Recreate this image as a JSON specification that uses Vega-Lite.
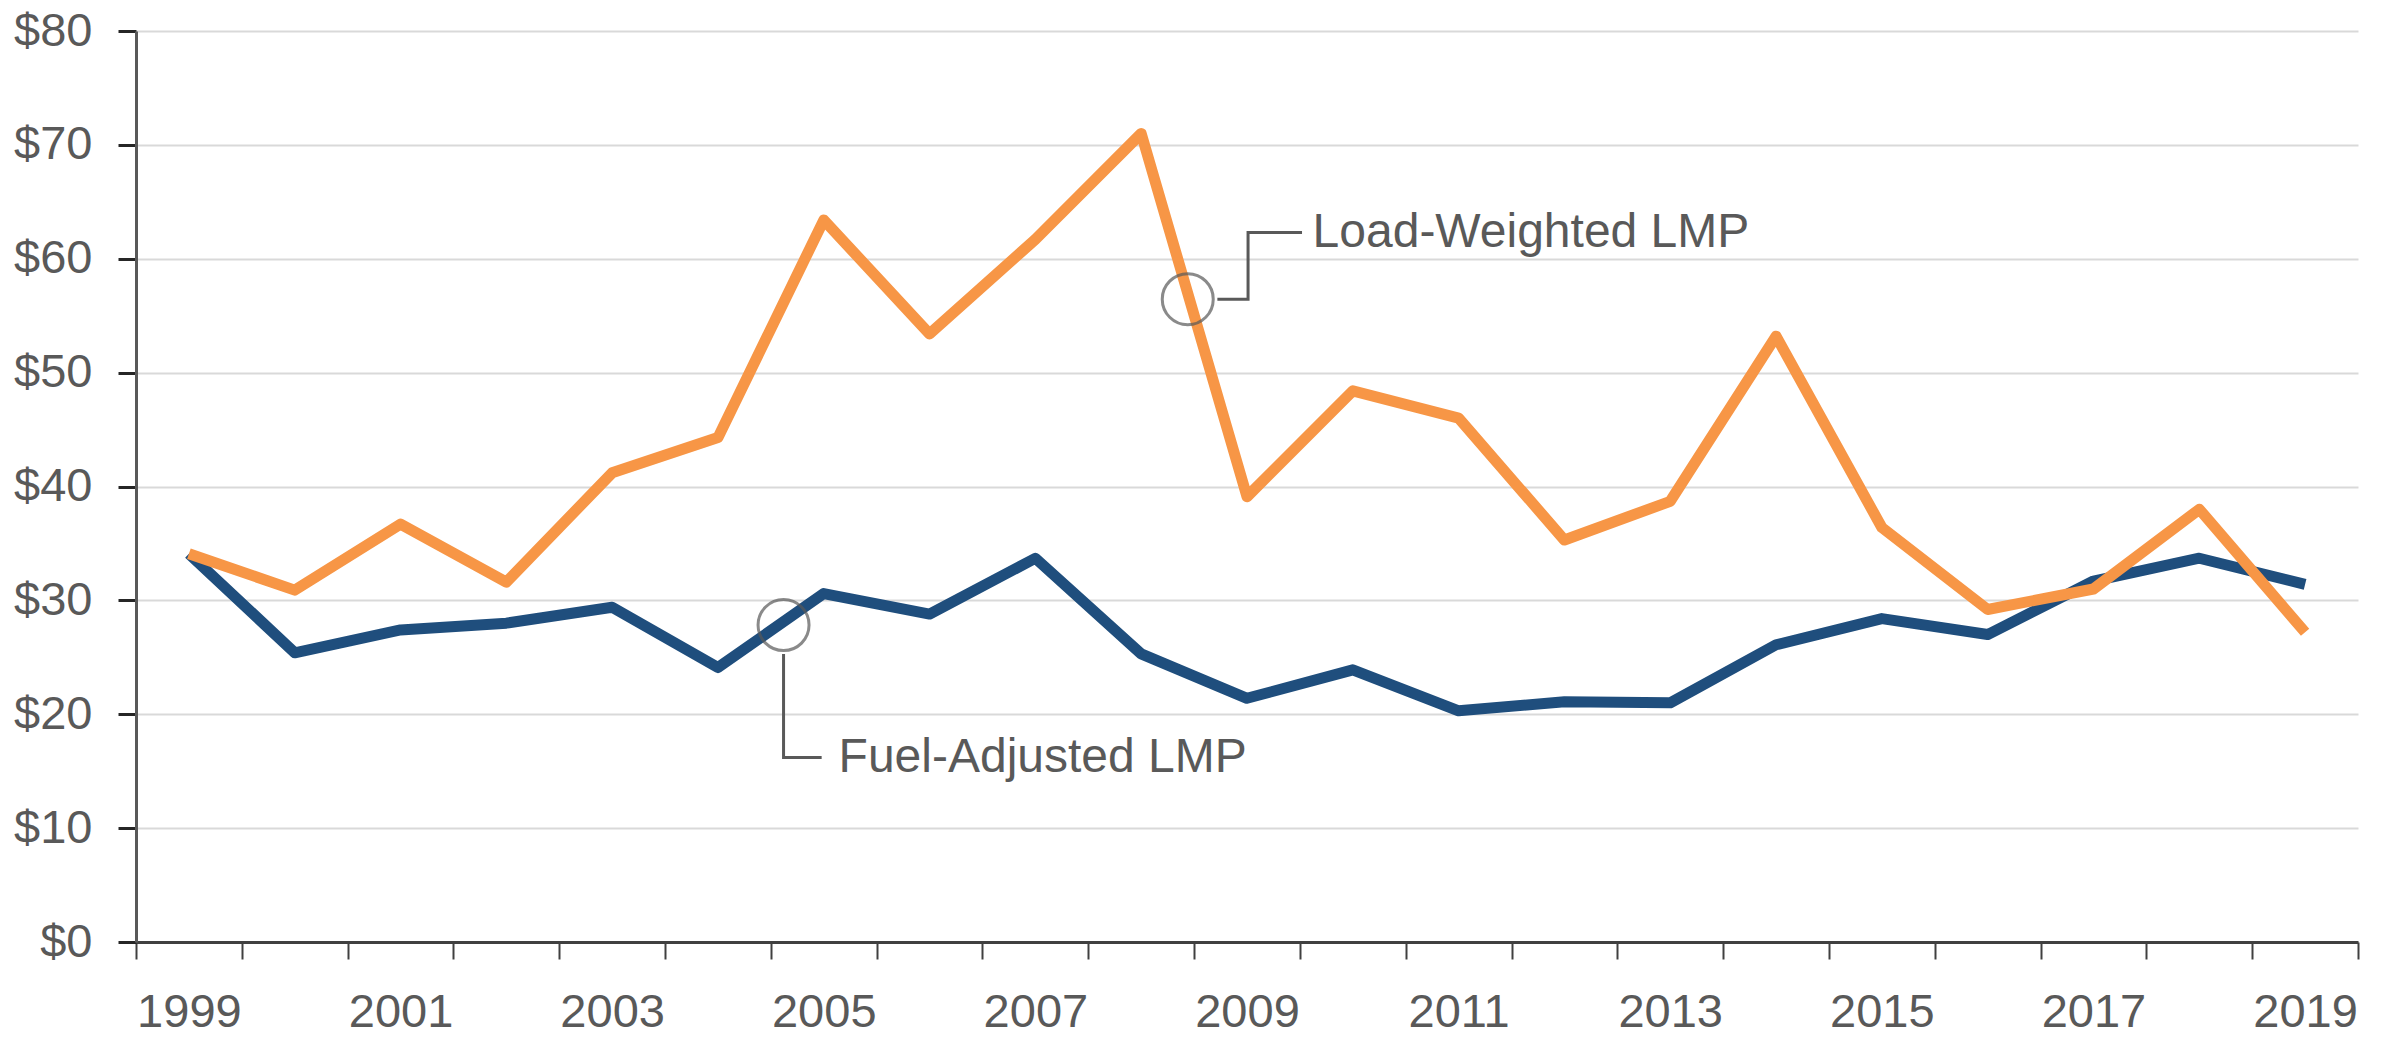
{
  "$schema": "https://vega.github.io/schema/vega-lite/v6.json",
  "autosize": "none",
  "width": 2222,
  "height": 911,
  "padding": {"left": 136, "top": 31, "right": 31, "bottom": 97},
  "background": "white",
  "config": {
    "view": {"stroke": null},
    "font": "Liberation Sans",
    "axis": {"labelFont": "Liberation Sans", "labelColor": "#595959", "labelFontSize": 47}
  },
  "datasets": {
    "lmp": [
      {"year": 1999, "series": "Load-Weighted LMP", "value": 34.1},
      {"year": 2000, "series": "Load-Weighted LMP", "value": 30.9},
      {"year": 2001, "series": "Load-Weighted LMP", "value": 36.7},
      {"year": 2002, "series": "Load-Weighted LMP", "value": 31.6},
      {"year": 2003, "series": "Load-Weighted LMP", "value": 41.2},
      {"year": 2004, "series": "Load-Weighted LMP", "value": 44.3},
      {"year": 2005, "series": "Load-Weighted LMP", "value": 63.4},
      {"year": 2006, "series": "Load-Weighted LMP", "value": 53.4},
      {"year": 2007, "series": "Load-Weighted LMP", "value": 61.7},
      {"year": 2008, "series": "Load-Weighted LMP", "value": 71.0},
      {"year": 2009, "series": "Load-Weighted LMP", "value": 39.1},
      {"year": 2010, "series": "Load-Weighted LMP", "value": 48.4},
      {"year": 2011, "series": "Load-Weighted LMP", "value": 46.0},
      {"year": 2012, "series": "Load-Weighted LMP", "value": 35.3},
      {"year": 2013, "series": "Load-Weighted LMP", "value": 38.7},
      {"year": 2014, "series": "Load-Weighted LMP", "value": 53.2},
      {"year": 2015, "series": "Load-Weighted LMP", "value": 36.4},
      {"year": 2016, "series": "Load-Weighted LMP", "value": 29.2},
      {"year": 2017, "series": "Load-Weighted LMP", "value": 31.0},
      {"year": 2018, "series": "Load-Weighted LMP", "value": 38.0},
      {"year": 2019, "series": "Load-Weighted LMP", "value": 27.2},
      {"year": 1999, "series": "Fuel-Adjusted LMP", "value": 34.1},
      {"year": 2000, "series": "Fuel-Adjusted LMP", "value": 25.4},
      {"year": 2001, "series": "Fuel-Adjusted LMP", "value": 27.4},
      {"year": 2002, "series": "Fuel-Adjusted LMP", "value": 28.0},
      {"year": 2003, "series": "Fuel-Adjusted LMP", "value": 29.4},
      {"year": 2004, "series": "Fuel-Adjusted LMP", "value": 24.1},
      {"year": 2005, "series": "Fuel-Adjusted LMP", "value": 30.6},
      {"year": 2006, "series": "Fuel-Adjusted LMP", "value": 28.8},
      {"year": 2007, "series": "Fuel-Adjusted LMP", "value": 33.7},
      {"year": 2008, "series": "Fuel-Adjusted LMP", "value": 25.3},
      {"year": 2009, "series": "Fuel-Adjusted LMP", "value": 21.4},
      {"year": 2010, "series": "Fuel-Adjusted LMP", "value": 23.9},
      {"year": 2011, "series": "Fuel-Adjusted LMP", "value": 20.3},
      {"year": 2012, "series": "Fuel-Adjusted LMP", "value": 21.1},
      {"year": 2013, "series": "Fuel-Adjusted LMP", "value": 21.0},
      {"year": 2014, "series": "Fuel-Adjusted LMP", "value": 26.1},
      {"year": 2015, "series": "Fuel-Adjusted LMP", "value": 28.4},
      {"year": 2016, "series": "Fuel-Adjusted LMP", "value": 27.0},
      {"year": 2017, "series": "Fuel-Adjusted LMP", "value": 31.7},
      {"year": 2018, "series": "Fuel-Adjusted LMP", "value": 33.7},
      {"year": 2019, "series": "Fuel-Adjusted LMP", "value": 31.4}
    ],
    "circles": [
      {"year": 2008.44, "value": 56.45},
      {"year": 2004.62, "value": 27.83}
    ],
    "leaders": [
      {"label": "Load-Weighted LMP", "i": 0, "year": 2008.72, "value": 56.45},
      {"label": "Load-Weighted LMP", "i": 1, "year": 2009.01, "value": 56.45},
      {"label": "Load-Weighted LMP", "i": 2, "year": 2009.01, "value": 62.3},
      {"label": "Load-Weighted LMP", "i": 3, "year": 2009.52, "value": 62.3},
      {"label": "Fuel-Adjusted LMP", "i": 0, "year": 2004.62, "value": 25.3},
      {"label": "Fuel-Adjusted LMP", "i": 1, "year": 2004.62, "value": 16.2},
      {"label": "Fuel-Adjusted LMP", "i": 2, "year": 2004.98, "value": 16.2}
    ],
    "labels": [
      {"label": "Load-Weighted LMP", "year": 2009.62, "value": 62.3},
      {"label": "Fuel-Adjusted LMP", "year": 2005.14, "value": 16.2}
    ]
  },
  "resolve": {"axis": {"x": "independent"}},
  "layer": [
    {
      "data": {"name": "lmp"},
      "transform": [{"filter": "datum.series === 'Fuel-Adjusted LMP'"}],
      "mark": {"type": "line", "strokeWidth": 11, "color": "#1F4E7D", "strokeJoin": "round"},
      "encoding": {
        "x": {"field": "year", "type": "quantitative",
              "scale": {"domain": [1998.5, 2019.5], "nice": false, "zero": false},
              "axis": {"orient": "bottom", "values": [1999, 2001, 2003, 2005, 2007, 2009, 2011, 2013, 2015, 2017, 2019],
                       "format": "d", "ticks": false, "grid": false, "title": null,
                       "domain": true, "domainColor": "#404040", "domainWidth": 3,
                       "labelPadding": 47, "labelFlush": false}},
        "y": {"field": "value", "type": "quantitative",
              "scale": {"domain": [0, 80], "nice": false},
              "axis": {"values": [0, 10, 20, 30, 40, 50, 60, 70, 80], "labelExpr": "'$' + datum.value",
                       "title": null, "grid": true, "gridColor": "#d9d9d9", "gridWidth": 2,
                       "ticks": true, "tickSize": 18, "tickColor": "#262626", "tickWidth": 3,
                       "domain": true, "domainColor": "#595959", "domainWidth": 3,
                       "labelPadding": 26}}
      }
    },
    {
      "data": {"name": "lmp"},
      "transform": [{"filter": "datum.series === 'Load-Weighted LMP'"}],
      "mark": {"type": "line", "strokeWidth": 11, "color": "#F79646", "strokeJoin": "round"},
      "encoding": {
        "x": {"field": "year", "type": "quantitative",
              "axis": {"orient": "bottom", "values": [1998.5, 1999.5, 2000.5, 2001.5, 2002.5, 2003.5, 2004.5, 2005.5, 2006.5, 2007.5, 2008.5, 2009.5, 2010.5, 2011.5, 2012.5, 2013.5, 2014.5, 2015.5, 2016.5, 2017.5, 2018.5, 2019.5],
                       "labels": false, "ticks": true, "tickSize": 17, "tickColor": "#404040", "tickWidth": 2,
                       "domain": false, "grid": false, "title": null}},
        "y": {"field": "value", "type": "quantitative", "title": null}
      }
    },
    {
      "data": {"name": "circles"},
      "mark": {"type": "point", "shape": "circle", "filled": false, "size": 2600, "stroke": "#595959", "strokeWidth": 3},
      "encoding": {
        "x": {"field": "year", "type": "quantitative", "axis": null},
        "y": {"field": "value", "type": "quantitative", "title": null}
      }
    },
    {
      "data": {"name": "leaders"},
      "mark": {"type": "line", "stroke": "#595959", "strokeWidth": 3, "strokeJoin": "miter"},
      "encoding": {
        "x": {"field": "year", "type": "quantitative", "axis": null},
        "y": {"field": "value", "type": "quantitative", "title": null},
        "detail": {"field": "label"},
        "order": {"field": "i", "type": "quantitative"}
      }
    },
    {
      "data": {"name": "labels"},
      "mark": {"type": "text", "align": "left", "baseline": "middle", "fontSize": 48, "color": "#595959"},
      "encoding": {
        "x": {"field": "year", "type": "quantitative", "axis": null},
        "y": {"field": "value", "type": "quantitative", "title": null},
        "text": {"field": "label"}
      }
    }
  ]
}
